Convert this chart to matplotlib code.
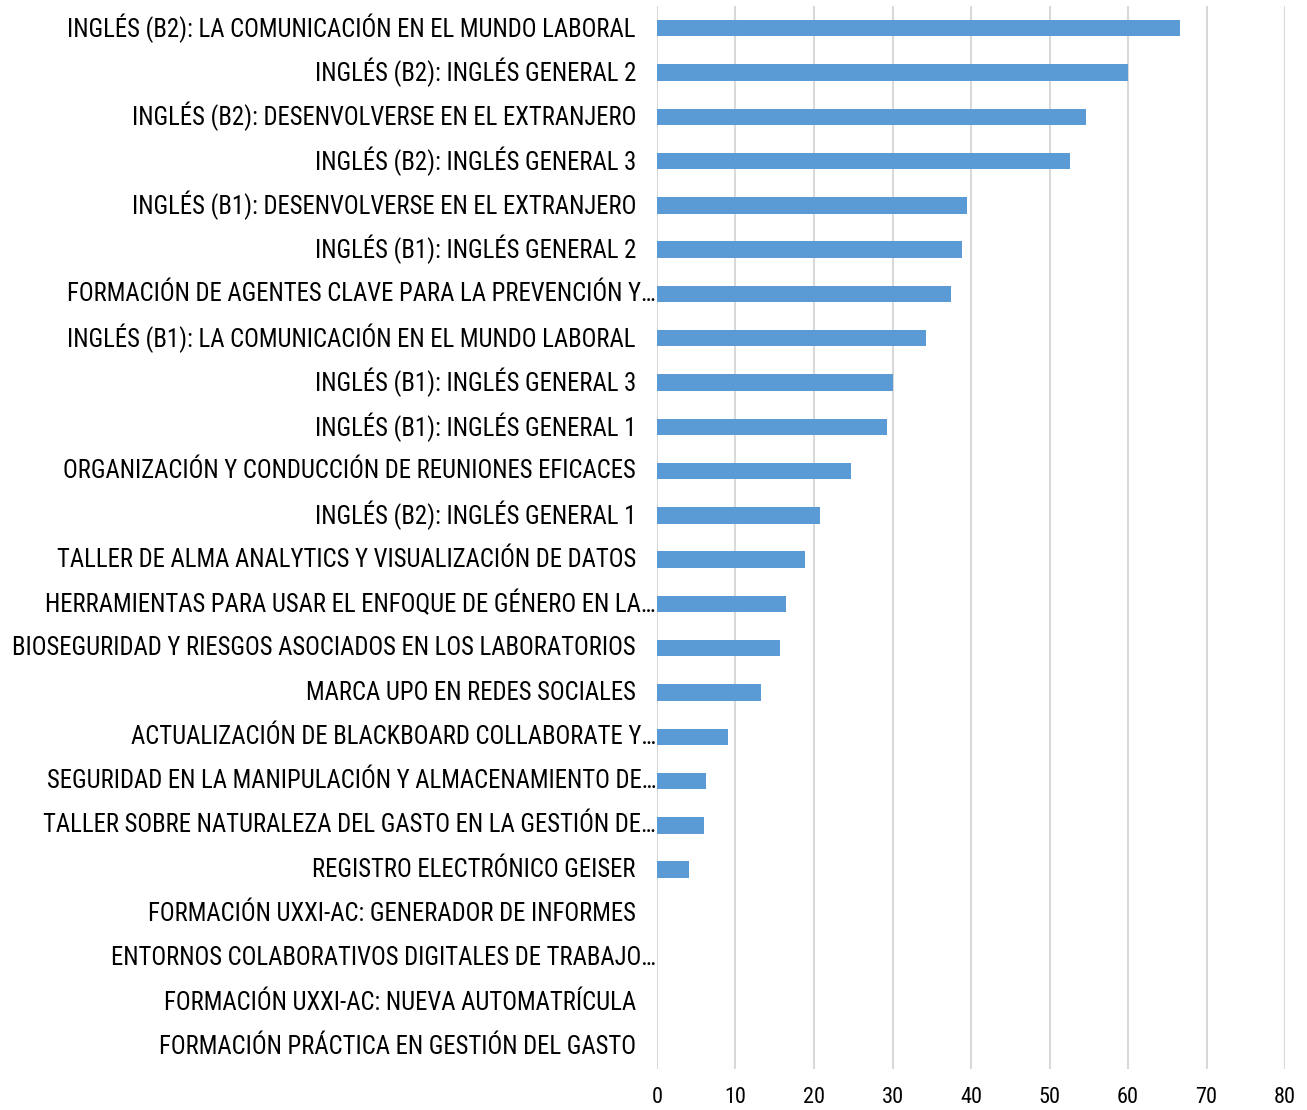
import matplotlib
matplotlib.use("Agg")
import matplotlib.pyplot as plt
from matplotlib.transforms import blended_transform_factory, ScaledTranslation

plt.rcParams['font.family'] = ['Liberation Sans Narrow', 'Roboto Condensed', 'Archivo Narrow', 'DejaVu Sans']

categories = [
    "INGLÉS (B2): LA COMUNICACIÓN EN EL MUNDO LABORAL",
    "INGLÉS (B2): INGLÉS GENERAL 2",
    "INGLÉS (B2): DESENVOLVERSE EN EL EXTRANJERO",
    "INGLÉS (B2): INGLÉS GENERAL 3",
    "INGLÉS (B1): DESENVOLVERSE EN EL EXTRANJERO",
    "INGLÉS (B1): INGLÉS GENERAL 2",
    "FORMACIÓN DE AGENTES CLAVE PARA LA PREVENCIÓN Y…",
    "INGLÉS (B1): LA COMUNICACIÓN EN EL MUNDO LABORAL",
    "INGLÉS (B1): INGLÉS GENERAL 3",
    "INGLÉS (B1): INGLÉS GENERAL 1",
    "ORGANIZACIÓN Y CONDUCCIÓN DE REUNIONES EFICACES",
    "INGLÉS (B2): INGLÉS GENERAL 1",
    "TALLER DE ALMA ANALYTICS Y VISUALIZACIÓN DE DATOS",
    "HERRAMIENTAS PARA USAR EL ENFOQUE DE GÉNERO EN LA…",
    "BIOSEGURIDAD Y RIESGOS ASOCIADOS EN LOS LABORATORIOS",
    "MARCA UPO EN REDES SOCIALES",
    "ACTUALIZACIÓN DE BLACKBOARD COLLABORATE Y…",
    "SEGURIDAD EN LA MANIPULACIÓN Y ALMACENAMIENTO DE…",
    "TALLER SOBRE NATURALEZA DEL GASTO EN LA GESTIÓN DE…",
    "REGISTRO ELECTRÓNICO GEISER",
    "FORMACIÓN UXXI-AC: GENERADOR DE INFORMES",
    "ENTORNOS COLABORATIVOS DIGITALES DE TRABAJO…",
    "FORMACIÓN UXXI-AC: NUEVA AUTOMATRÍCULA",
    "FORMACIÓN PRÁCTICA EN GESTIÓN DEL GASTO",
]
values = [66.6, 60.0, 54.6, 52.6, 39.5, 38.9, 37.5, 34.3, 30.0, 29.3, 24.7, 20.8,
          18.8, 16.4, 15.7, 13.3, 9.1, 6.3, 6.0, 4.1, 0, 0, 0, 0]
xticks = [0, 10, 20, 30, 40, 50, 60, 70, 80]

fig = plt.figure(figsize=(13.07, 11.10), dpi=100)
ax = fig.add_axes([657/1307, 1 - 1069/1110, (1285-657)/1307, (1069-6)/1110])

y = list(range(len(categories)))
ax.barh(y, values, height=0.37, color='#5B9BD5', zorder=3)
ax.set_ylim(len(categories) - 0.5, -0.5)
ax.set_xlim(0, 80)
ax.set_xticks(xticks)
ax.set_xticklabels([str(t) for t in xticks], fontsize=16)
ax.tick_params(axis='x', length=0, pad=13)
ax.set_yticks([])
ax.grid(axis='x', color='#D9D9D9', linewidth=1.5, zorder=0)
for s in ax.spines.values():
    s.set_visible(False)

trans = blended_transform_factory(ax.transAxes, ax.transData)
for yi, cat in zip(y, categories):
    off = -0.01 if cat.endswith("…") else -0.21
    t = trans + ScaledTranslation(off, 0, fig.dpi_scale_trans)
    ax.text(0, yi, cat, transform=t, ha='right', va='center', fontsize=17.8, color='black')

fig.savefig("out.png", dpi=100)
